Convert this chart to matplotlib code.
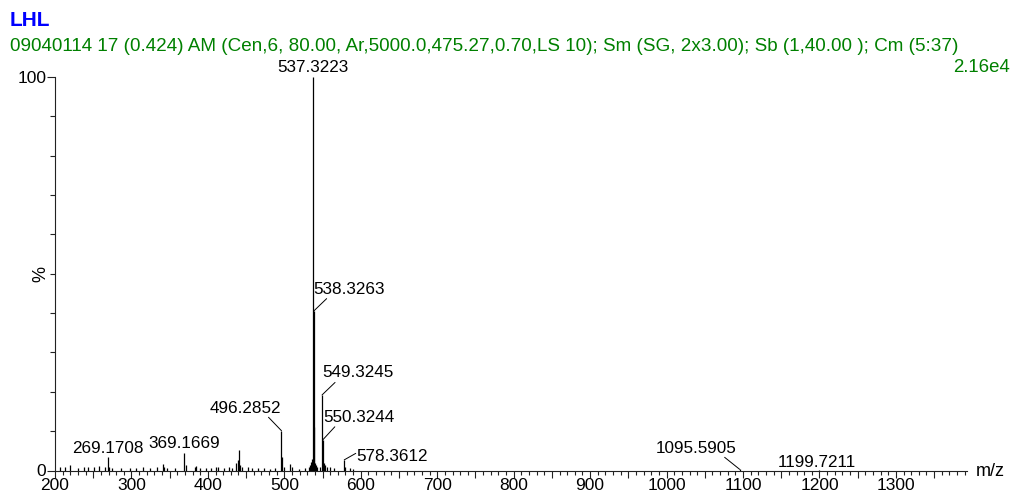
import matplotlib
matplotlib.use("Agg")
import matplotlib.pyplot as plt
from matplotlib.ticker import MultipleLocator, FuncFormatter

plt.rcParams["font.family"] = ["Liberation Sans", "DejaVu Sans"]

# -----------------------------
# Spectrum data (m/z, relative intensity %)
# -----------------------------
mz = [206.0, 213.0, 219.0, 230.0, 238.0, 243.0, 251.0, 258.0, 266.0,
      269.1708, 271.0, 275.0, 286.0, 298.0, 306.0, 315.0, 324.0, 333.0,
      341.0, 343.0, 347.0, 357.0, 369.1669, 371.0, 383.0, 385.0, 390.0,
      398.0, 404.0, 411.0, 413.0, 421.0, 428.0, 431.0, 437.0, 439.0,
      440.3, 442.0, 444.0, 453.0, 458.0, 466.0, 474.0, 481.0, 488.0,
      496.2852, 497.29, 499.0, 508.0, 510.0, 519.0, 527.0, 532.0, 534.0,
      535.0, 536.0, 537.3223, 538.3263, 539.33, 540.3, 541.0, 543.0,
      547.0, 549.3245, 550.3244, 551.33, 553.0, 556.0, 560.0, 565.0,
      578.3612, 580.0, 586.0, 590.0, 1095.5905, 1199.7211]
intensity = [0.8, 1.0, 1.3, 0.7, 1.0, 1.0, 0.8, 1.2, 0.9,
             3.4, 1.0, 0.6, 0.6, 0.6, 0.7, 0.8, 0.6, 0.9,
             1.6, 1.0, 0.6, 0.6, 4.4, 1.3, 0.8, 1.1, 0.7,
             0.6, 0.6, 0.9, 1.0, 0.6, 0.8, 0.6, 2.0, 2.6,
             5.2, 1.5, 0.8, 0.8, 0.7, 0.6, 0.6, 0.5, 0.6,
             10.1, 3.4, 0.8, 1.6, 0.8, 0.5, 0.6, 1.0, 1.5,
             2.2, 3.0, 100.0, 40.5, 11.0, 2.0, 1.5, 0.8,
             1.0, 19.2, 7.8, 2.0, 1.5, 0.8, 1.0, 0.6,
             2.7, 0.8, 0.6, 0.5, 0.3, 0.2]

# labelled peaks
label_mz = [269.1708, 369.1669, 496.2852, 537.3223, 538.3263,
            549.3245, 550.3244, 578.3612, 1095.5905, 1199.7211]
label_int = [3.4, 4.4, 10.1, 100.0, 40.5, 19.2, 7.8, 2.7, 0.3, 0.2]

# text offset (px), alignment, leader end offset (px) or None
label_style = {
    269.1708: ((0, 9), "center", None),
    369.1669: ((0, 9.5), "center", None),
    496.2852: ((0, 22.5), "right", (-13, 13.5)),
    537.3223: ((0, 10), "center", None),
    538.3263: ((0, 22), "left", (13, 12.5)),
    549.3245: ((0, 22), "left", (13, 12.5)),
    550.3244: ((0.5, 22), "left", (12, 13)),
    578.3612: ((12, 3.5), "left", (11.5, 6.5)),
    1095.5905: ((-3, 21), "right", (-15, 12)),
    1199.7211: ((-2, 7), "center", None),
}

W, H, DPI = 1014, 503, 100
PT = 72.0 / DPI  # px -> points

fig = plt.figure(figsize=(W / DPI, H / DPI), dpi=DPI)
ax = fig.add_axes([55 / W, (H - 470.5) / H, 912 / W, 393.5 / H])

ax.vlines(mz, 0, intensity, color="black", linewidth=0.9)

for m, h in zip(label_mz, label_int):
    (tx, ty), ha, lead = label_style[m]
    ax.annotate(f"{m:.4f}", xy=(m, h), xytext=(tx * PT, ty * PT),
                textcoords="offset points", ha=ha, va="center",
                fontsize=12.3, color="black")
    if lead is not None:
        ax.annotate("", xy=(m, h), xytext=(lead[0] * PT, lead[1] * PT),
                    textcoords="offset points",
                    arrowprops=dict(arrowstyle="-", color="black", lw=0.7,
                                    shrinkA=0, shrinkB=0))

# -----------------------------
# Axes formatting
# -----------------------------
ax.set_xlim(200, 1393)
ax.set_ylim(0, 100)
for side in ("top", "right"):
    ax.spines[side].set_visible(False)
for side in ("left", "bottom"):
    ax.spines[side].set_linewidth(0.8)
    ax.spines[side].set_color("#222222")

ax.xaxis.set_major_locator(MultipleLocator(50))
ax.xaxis.set_minor_locator(MultipleLocator(10))
ax.xaxis.set_major_formatter(FuncFormatter(
    lambda v, p: f"{v:.0f}" if v % 100 == 0 and v <= 1300 else ""))
ax.tick_params(axis="x", which="major", length=7 * PT, width=0.8,
               pad=0.5, labelsize=12.5, color="#222222")
ax.tick_params(axis="x", which="minor", length=3.5 * PT, width=0.8,
               color="#222222")

ax.yaxis.set_major_locator(MultipleLocator(100))
ax.yaxis.set_minor_locator(MultipleLocator(10))
ax.tick_params(axis="y", which="major", length=8 * PT, width=0.8,
               pad=0.5, labelsize=12.5, color="#222222")
ax.tick_params(axis="y", which="minor", length=5 * PT, width=0.8,
               color="#222222")

fig.text(41 / W, 1 - 274 / H, "%", rotation=90, ha="center", va="center",
         fontsize=13)
fig.text(976 / W, 1 - 472 / H, "m/z", ha="left", va="center", fontsize=13)

# header
fig.text(10 / W, 1 - 20 / H, "LHL", color="#0000ff", fontweight="bold",
         fontsize=15, ha="left", va="center")
fig.text(10 / W, 1 - 46.5 / H,
         "09040114 17 (0.424) AM (Cen,6, 80.00, Ar,5000.0,475.27,0.70,LS 10); "
         "Sm (SG, 2x3.00); Sb (1,40.00 ); Cm (5:37)",
         color="#008000", fontsize=13.6, ha="left", va="center")
fig.text(1010 / W, 1 - 67.5 / H, "2.16e4", color="#008000", fontsize=13.4,
         ha="right", va="center")

fig.savefig("out.png", dpi=DPI)
